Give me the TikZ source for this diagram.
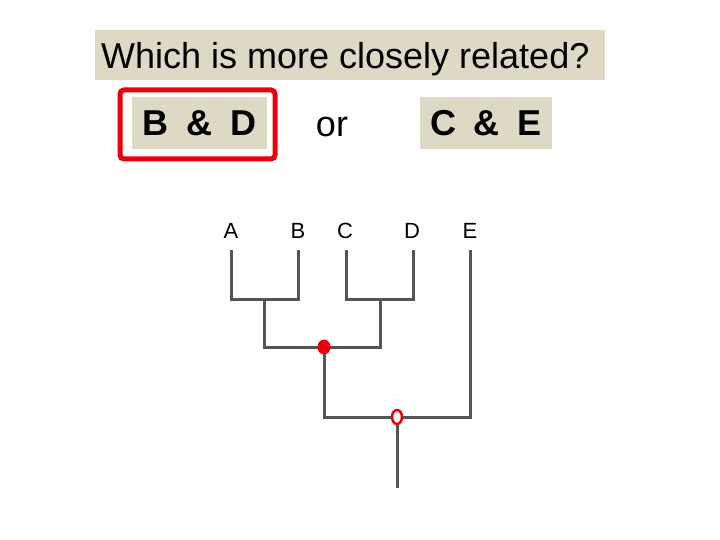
\documentclass[tikz,border=0pt]{standalone}
\usepackage{fontspec}
\setmainfont{Liberation Sans}
\definecolor{boxgray}{HTML}{DDD9C4}
\definecolor{linegray}{HTML}{555555}
\definecolor{mred}{HTML}{E8000B}
\begin{document}
\begin{tikzpicture}[x=1pt,y=-1pt,
  branch/.style={draw=linegray,line width=3pt},
  tip/.style={font=\fontsize{22}{24}\selectfont,anchor=base},
  choice/.style={fill=boxgray,font=\fontsize{36}{40}\selectfont\bfseries,inner sep=0pt}]
\useasboundingbox (0,0) rectangle (720,540);
% title
\fill[boxgray] (95,30) rectangle (605,80);
\node[anchor=base west,inner sep=0pt,font=\fontsize{36}{40}\selectfont] (title) at (101,69) {Which is more closely related?};
% choices
\node[choice,minimum width=135pt,minimum height=52pt] (bd) at (199.5,123) {B\hspace{0.5em}\&\hspace{0.5em}D};
\draw[mred,line width=5pt,rounded corners=4pt] (120,90) rectangle (275,159);
\node[font=\fontsize{36}{40}\selectfont,anchor=base,inner sep=0pt] (or) at (332,137) {or};
\node[choice,minimum width=132pt,minimum height=52pt] (ce) at (486,123) {C\hspace{0.5em}\&\hspace{0.5em}E};
% tips
\node[tip] (A) at (231,239) {A};
\node[tip] (B) at (298,239) {B};
\node[tip] (C) at (345,239) {C};
\node[tip] (D) at (412,239) {D};
\node[tip] (E) at (470,239) {E};
\coordinate (a0) at (231,250);
\coordinate (b0) at (298,250);
\coordinate (c0) at (346,250);
\coordinate (d0) at (413,250);
\coordinate (e0) at (470,250);
\coordinate (ab) at (264,299);
\coordinate (cd) at (380,299);
\coordinate (n1) at (324,347);
\coordinate (n2) at (397,417);
\coordinate (root) at (397,488);
% tree
\draw[branch] (a0) |- (ab) -| (b0);
\draw[branch] (c0) |- (cd) -| (d0);
\draw[branch] (ab) |- (n1) -| (cd);
\draw[branch] (n1) |- (n2) -| (e0);
\draw[branch] (n2) -- (root);
\fill[mred] (n1) ellipse[x radius=6.5pt,y radius=7.5pt];
\draw[mred,fill=white,line width=2.5pt] (n2) ellipse[x radius=5pt,y radius=7pt];
\end{tikzpicture}
\end{document}
